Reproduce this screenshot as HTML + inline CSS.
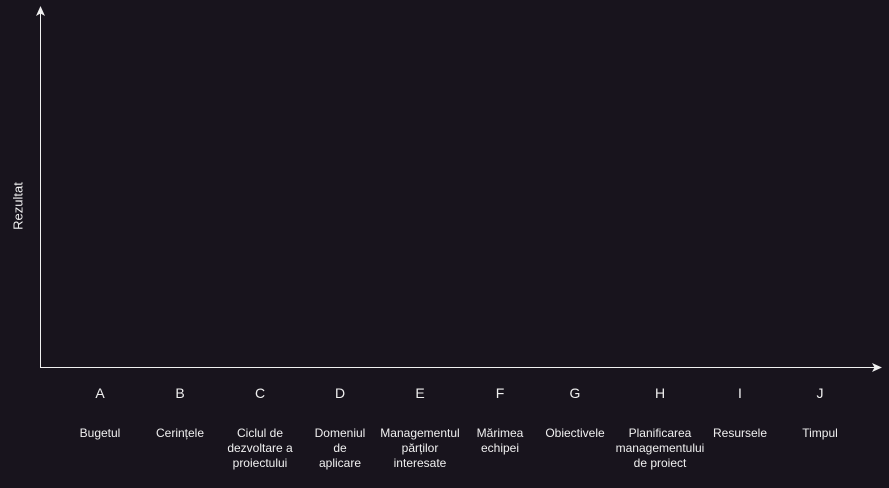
<!DOCTYPE html>
<html><head><meta charset="utf-8">
<style>
html,body{margin:0;padding:0;background:#18141d;}
svg{display:block;}
text{font-family:"Liberation Sans",Arial,sans-serif;fill:#f0f0f0;}
</style></head>
<body>
<svg id="chart" width="889" height="488" xmlns="http://www.w3.org/2000/svg">
  <rect width="889" height="488" fill="#18141d"/>
  <g>
    <line x1="40.5" y1="367" x2="40.5" y2="12" stroke="#f0f0f0" stroke-width="1"/>
    <path d="M40.5 6 L45 16 L40.5 13.5 L36 16 Z" fill="#f0f0f0"/>
  </g>
  <g>
    <line x1="40" y1="367.5" x2="876" y2="367.5" stroke="#f0f0f0" stroke-width="1"/>
    <path d="M882 367.5 L872 372 L874.5 367.5 L872 363 Z" fill="#f0f0f0"/>
  </g>
  <text x="0" y="0" font-size="13" text-anchor="middle" transform="translate(22.5,206) rotate(-90)">Rezultat</text>
  <g id="cats"></g>
</svg>
<script>
const categories = ["A","B","C","D","E","F","G","H","I","J"];
const labels = [
  ["Bugetul"],
  ["Cerințele"],
  ["Ciclul de","dezvoltare a","proiectului"],
  ["Domeniul","de","aplicare"],
  ["Managementul","părților","interesate"],
  ["Mărimea","echipei"],
  ["Obiectivele"],
  ["Planificarea","managementului","de proiect"],
  ["Resursele"],
  ["Timpul"]
];
const centers = [100,180,260,340,420,500,575,660,740,820];
const NS = "http://www.w3.org/2000/svg";
const g = document.getElementById("cats");
categories.forEach(function(c, i){
  const t = document.createElementNS(NS, "text");
  t.setAttribute("x", centers[i]);
  t.setAttribute("y", 398);
  t.setAttribute("font-size", "14");
  t.setAttribute("text-anchor", "middle");
  t.textContent = c;
  
  
  g.appendChild(t);
  const l = document.createElementNS(NS, "text");
  l.setAttribute("font-size", "12");
  l.setAttribute("text-anchor", "middle");
  
  
  labels[i].forEach(function(line, j){
    const s = document.createElementNS(NS, "tspan");
    s.setAttribute("x", centers[i]);
    s.setAttribute("y", 437 + j*15);
    s.textContent = line;
    l.appendChild(s);
  });
  g.appendChild(l);
});
</script>
</body></html>
